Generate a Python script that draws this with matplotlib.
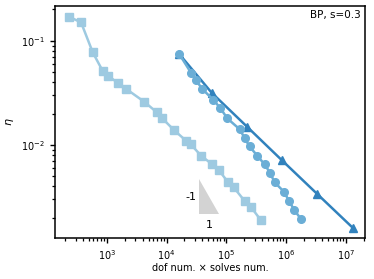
import matplotlib
matplotlib.use("Agg")
import matplotlib.pyplot as plt
from matplotlib.patches import Polygon

# light series (squares)
sq_x = [234, 372, 583, 857, 1064, 1563, 2128, 4236, 6935, 8511, 13340, 21170,
        25400, 38200, 57000, 74700, 105500, 133000, 203000, 256000, 376000]
sq_y = [0.170, 0.150, 0.0774, 0.0512, 0.0459, 0.0391, 0.0344, 0.0260, 0.0205,
        0.0180, 0.0139, 0.0110, 0.01016, 0.00785, 0.00658, 0.00576, 0.00444,
        0.00393, 0.00290, 0.00256, 0.00191]

# medium series (circles)
ci_x = [16370, 25700, 31100, 39200, 61100, 80000, 104000, 169000, 203000,
        246000, 332000, 440000, 538000, 645000, 922000, 1117000, 1371000, 1775000]
ci_y = [0.0745, 0.0493, 0.0420, 0.0347, 0.0270, 0.0225, 0.0180, 0.0141, 0.0116,
        0.00968, 0.00785, 0.00650, 0.00542, 0.00438, 0.00356, 0.00292, 0.00238,
        0.00195]

# dark series (triangles)
tr_x = [16370, 57000, 222000, 843000, 3.32e6, 1.33e7]
tr_y = [0.0745, 0.0317, 0.0150, 0.00718, 0.00339, 0.00159]

# slope triangle
slope_x0, slope_x1 = 35400, 74700
slope_y0, slope_y1 = 0.00218, 0.00469

fig = plt.figure(figsize=(3.74, 2.79), dpi=100)
ax = fig.add_axes([0.147, 0.147, 0.829, 0.831])

ax.loglog(sq_x, sq_y, marker="s", color="#9ecae1", lw=1.8, ms=5.5)
ax.loglog(tr_x, tr_y, marker="^", color="#3182bd", lw=1.8, ms=5.5, zorder=2)
ax.loglog(ci_x, ci_y, marker="o", color="#6baed6", lw=1.8, ms=5.5, zorder=2.5)

ax.add_patch(Polygon([(slope_x0, slope_y1), (slope_x0, slope_y0), (slope_x1, slope_y0)],
                     closed=True, facecolor="#d3d3d3", edgecolor="none"))
ax.text(slope_x0 * 0.9, (slope_y0 * slope_y1) ** 0.5, "-1", ha="right", va="center", fontsize=8)
ax.text((slope_x0 * slope_x1) ** 0.5, slope_y0 * 0.88, "1", ha="center", va="top", fontsize=8)

ax.set_xlim(136, 2.1e7)
ax.set_ylim(0.00128, 0.215)
for sp in ax.spines.values():
    sp.set_linewidth(1.1)
ax.tick_params(labelsize=7, width=1.0)
ax.tick_params(which="minor", width=0.9)
ax.set_xlabel("dof num. × solves num.", fontsize=7, labelpad=1)
ax.set_ylabel(r"$\eta$", fontsize=8)
ax.text(0.985, 0.985, "BP, s=0.3", transform=ax.transAxes, ha="right", va="top", fontsize=7.5)

fig.savefig("out.png", dpi=100)
